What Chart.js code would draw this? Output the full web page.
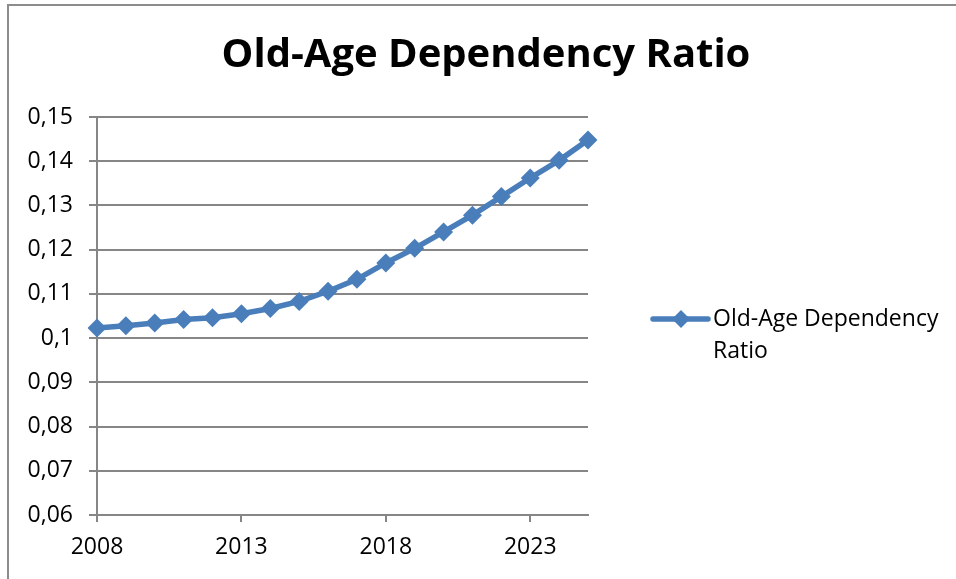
<!DOCTYPE html>
<html>
<head>
<meta charset="utf-8">
<script src="https://cdn.jsdelivr.net/npm/chart.js@4.4.1/dist/chart.umd.min.js"></script>
<style>
  html, body { margin: 0; padding: 0; background: #fff; }
  #wrap { position: relative; width: 956px; height: 579px; overflow: hidden; }
  #frame { position: absolute; left: 7px; top: 4px; width: 970px; height: 620px;
           border: 2px solid #8c8c8c; box-sizing: border-box; pointer-events: none; }
  canvas { position: absolute; left: 0; top: 0; }
</style>
</head>
<body>
<div id="wrap">
  <canvas id="chart" width="956" height="579"></canvas>
  <div id="frame"></div>
</div>
<script>
const chartTitle = 'Old-Age Dependency Ratio';
const seriesName = ['Old-Age Dependency', 'Ratio'];
const years = ['2008','2009','2010','2011','2012','2013','2014','2015','2016',
               '2017','2018','2019','2020','2021','2022','2023','2024','2025'];
const ratio = [0.1023, 0.1028, 0.1034, 0.1042, 0.1046, 0.1055, 0.1067, 0.1083, 0.1106,
               0.1133, 0.1170, 0.1203, 0.1240, 0.1278, 0.1320, 0.1362, 0.1402, 0.1448];
const yTickLabels = ['0,06','0,07','0,08','0,09','0,1','0,11','0,12','0,13','0,14','0,15'];

const BLUE = '#4a7ebb';
const GRID = '#868686';
const FONT = '"Open Sans", Lato, sans-serif';

// Centred chart title across the whole canvas
const topTitle = {
  id: 'topTitle',
  afterDraw(chart) {
    const ctx = chart.ctx;
    ctx.save();
    ctx.fillStyle = '#000';
    ctx.font = 'bold 40px ' + FONT;
    ctx.textAlign = 'center';
    ctx.textBaseline = 'middle';
    ctx.fillText(chartTitle, 486, 56);
    ctx.restore();
  }
};

// Two-line legend entry to the right of the plot
const sideLegend = {
  id: 'sideLegend',
  afterDraw(chart) {
    const ctx = chart.ctx;
    const ca = chart.chartArea;
    const x0 = ca.right + 65, y0 = 319;
    ctx.save();
    ctx.strokeStyle = BLUE;
    ctx.lineWidth = 5.5;
    ctx.lineCap = 'round';
    ctx.beginPath();
    ctx.moveTo(x0, y0);
    ctx.lineTo(x0 + 55, y0);
    ctx.stroke();
    const cx = x0 + 28, r = 9;
    ctx.fillStyle = BLUE;
    ctx.beginPath();
    ctx.moveTo(cx, y0 - r); ctx.lineTo(cx + r, y0); ctx.lineTo(cx, y0 + r); ctx.lineTo(cx - r, y0);
    ctx.closePath();
    ctx.fill();
    ctx.fillStyle = '#000';
    ctx.font = '23px ' + FONT;
    ctx.textBaseline = 'middle';
    ctx.textAlign = 'left';
    seriesName.forEach((t, i) => ctx.fillText(t, x0 + 60, y0 + i * 32));
    ctx.restore();
  }
};

new Chart(document.getElementById('chart'), {
  type: 'line',
  data: {
    labels: years,
    datasets: [{
      label: seriesName.join(' '),
      data: ratio,
      borderColor: BLUE,
      backgroundColor: BLUE,
      borderWidth: 5.5,
      pointStyle: 'rectRot',
      pointRadius: 9.5,
      pointHoverRadius: 9.5,
      pointBorderWidth: 0,
      tension: 0
    }]
  },
  options: {
    responsive: false,
    animation: false,
    layout: { padding: { left: 0, right: 368, top: 117, bottom: 0 } },
    plugins: {
      legend: { display: false },
      tooltip: { enabled: false },
      title: { display: false }
    },
    scales: {
      x: {
        offset: false,
        border: { display: true, color: GRID, width: 2 },
        grid: {
          drawOnChartArea: false,
          drawTicks: true,
          tickLength: 7,
          lineWidth: 2,
          color: (c) => (c.index % 5 === 0 ? GRID : 'rgba(0,0,0,0)')
        },
        ticks: {
          autoSkip: false,
          maxRotation: 0,
          padding: 12,
          color: '#000',
          font: { family: FONT, size: 23 },
          callback: (v, i) => (i % 5 === 0 ? years[i] : '')
        },
        afterFit: (s) => { s.height = 579 - 515; }
      },
      y: {
        min: 0.06,
        max: 0.15,
        border: { display: true, color: GRID, width: 2 },
        grid: { color: GRID, lineWidth: 2, tickLength: 8 },
        ticks: {
          stepSize: 0.01,
          padding: 16,
          color: '#000',
          font: { family: FONT, size: 23 },
          callback: (v, i) => yTickLabels[i]
        },
        afterFit: (s) => { s.width = 97; }
      }
    }
  },
  plugins: [topTitle, sideLegend]
});
</script>
</body>
</html>
